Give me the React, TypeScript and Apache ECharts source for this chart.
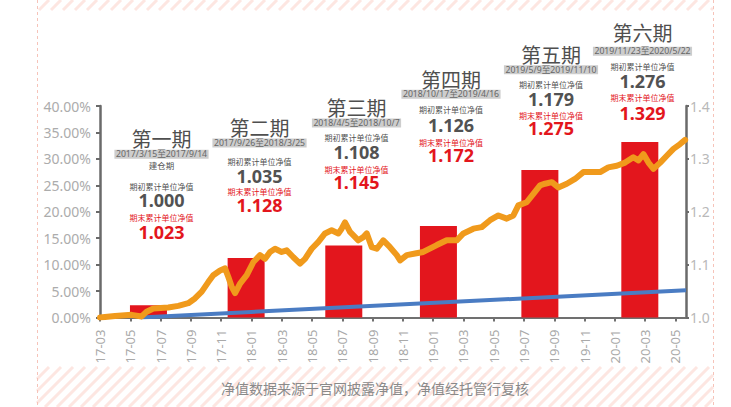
import React, { useEffect, useRef } from 'react';
import * as echarts from 'echarts';

// x axis: months counted from 2017-03
const xTickLabels = ['17-03', '17-05', '17-07', '17-09', '17-11', '18-01', '18-03', '18-05', '18-07', '18-09', '18-11', '19-01', '19-03', '19-05', '19-07', '19-09', '19-11', '20-01', '20-03', '20-05'];
const xMax = 38.7;

// period return bars (left axis, %)
const barMonths = [3.2, 9.65, 16.1, 22.35, 29.05, 35.65];
const barReturns = [2.3, 11.25, 13.6, 17.3, 27.9, 33.2];

// benchmark line (right axis)
const benchMonths = [2.7, 38.7];
const benchValues = [1.0, 1.0515];

// cumulative NAV (right axis)
const navMonths = [0, 0.99, 2.09, 2.75, 3.08, 3.52, 4.51, 5.17, 5.83, 6.27, 6.72, 7.15, 7.48, 7.93, 8.26, 8.47, 8.7, 8.92, 9.25, 9.69, 10.13, 10.57, 10.9, 11.23, 11.56, 12.0, 12.33, 12.77, 13.21, 13.54, 13.98, 14.42, 14.86, 15.3, 15.74, 15.96, 16.18, 16.51, 17.06, 17.39, 17.62, 17.95, 18.28, 18.71, 19.15, 19.6, 19.82, 20.26, 20.81, 21.35, 22.24, 22.9, 23.56, 24.0, 24.66, 25.21, 25.76, 26.31, 26.86, 27.3, 27.63, 28.18, 28.62, 29.06, 29.39, 29.84, 30.27, 30.83, 31.37, 31.92, 32.48, 33.03, 33.57, 34.13, 34.68, 35.22, 35.56, 35.89, 36.22, 36.55, 37.0, 37.43, 37.87, 38.31, 38.64];
const navValues = [1.0, 1.003, 1.005, 1.002, 1.011, 1.017, 1.019, 1.022, 1.027, 1.036, 1.049, 1.067, 1.08, 1.089, 1.093, 1.077, 1.058, 1.046, 1.064, 1.08, 1.105, 1.118, 1.111, 1.124, 1.13, 1.124, 1.127, 1.114, 1.102, 1.111, 1.13, 1.143, 1.159, 1.165, 1.159, 1.168, 1.18, 1.162, 1.146, 1.152, 1.159, 1.133, 1.13, 1.146, 1.133, 1.118, 1.108, 1.118, 1.121, 1.124, 1.137, 1.146, 1.146, 1.159, 1.168, 1.171, 1.184, 1.193, 1.187, 1.193, 1.212, 1.218, 1.234, 1.25, 1.253, 1.256, 1.246, 1.253, 1.262, 1.275, 1.275, 1.275, 1.284, 1.287, 1.293, 1.303, 1.297, 1.309, 1.293, 1.281, 1.293, 1.306, 1.319, 1.328, 1.336];

// period annotations
const periodTitles = ['第一期', '第二期', '第三期', '第四期', '第五期', '第六期'];
const periodRanges = ['2017/3/15至2017/9/14', '2017/9/26至2018/3/25', '2018/4/5至2018/10/7', '2018/10/17至2019/4/16', '2019/5/9至2019/11/10', '2019/11/23至2020/5/22'];
const periodNotes = ['建仓期', '', '', '', '', ''];
const startNav = ['1.000', '1.035', '1.108', '1.126', '1.179', '1.276'];
const endNav = ['1.023', '1.128', '1.145', '1.172', '1.275', '1.329'];
const startLabel = '期初累计单位净值';
const endLabel = '期末累计单位净值';
const footnote = '净值数据来源于官网披露净值，净值经托管行复核';

// layout of annotation blocks: center x, then y of title, range, note, start label, start value, end label, end value
const blockX = [161.5, 259.5, 356.5, 451, 551, 642.5];
const blockY = [
  [138.3, 154.2, 165, 186, 200, 217.3, 231.7],
  [127.3, 143, 0, 161.7, 176, 191.7, 205],
  [107.3, 123, 0, 137.7, 151.7, 169, 181.7],
  [79.3, 94.2, 0, 109.3, 125, 142.3, 155],
  [54.3, 69.8, 0, 84.3, 99, 115.7, 128.3],
  [32.3, 51.3, 0, 66.7, 80.7, 97.7, 113.3],
];

const W = 731;
const H = 407;
const CJK = "'Noto Sans CJK SC', 'Noto Sans', sans-serif";
const LAT = "'Noto Sans', 'Noto Sans CJK SC', sans-serif";
const RED = '#e3161d';
const GRAY = '#525252';

function stripes(x0: number, x1: number, y0: number, y1: number) {
  const out: any[] = [];
  const step = 12;
  for (let c = x0 + y0; c <= x1 + y1 + step; c += step) {
    const xa = Math.max(x0, c - y1);
    const xb = Math.min(x1, c - y0);
    if (xb <= xa) continue;
    out.push({
      type: 'line',
      silent: true,
      z: -10,
      shape: { x1: xa, y1: c - xa, x2: xb, y2: c - xb },
      style: { stroke: '#fde6e1', lineWidth: 3 },
    });
  }
  return out;
}

function txt(x: number, y: number, text: string, size: number, color: string, font: string, weight: any = 'normal', extra: any = {}) {
  return {
    type: 'text',
    x,
    y,
    silent: true,
    style: {
      text,
      fontSize: size,
      fontFamily: font,
      fontWeight: weight,
      fill: color,
      align: 'center',
      verticalAlign: 'middle',
      ...extra,
    },
  };
}

export default function App() {
  const ref = useRef<HTMLDivElement>(null);
  useEffect(() => {
    if (!ref.current) return;
    const chart = echarts.init(ref.current, null, { renderer: 'svg' });

    const graphics: any[] = [];
    graphics.push(...stripes(37, 713, 0, 10));
    graphics.push(...stripes(37, 713, 367, 407));
    [37.5, 713.5].forEach((x) =>
      graphics.push({
        type: 'line',
        silent: true,
        z: -5,
        shape: { x1: x, y1: 0, x2: x, y2: H },
        style: { stroke: '#f6c3b9', lineWidth: 1, lineDash: [3, 3] },
      })
    );
    graphics.push(txt(375, 387.5, footnote, 14, '#8a8a8a', CJK));

    periodTitles.forEach((t, i) => {
      const x = blockX[i];
      const ys = blockY[i];
      graphics.push(txt(x, ys[0], t, 20, '#4f4f4f', CJK));
      graphics.push(
        txt(x, ys[1], periodRanges[i], 8.7, '#666', LAT, 'normal', {
          backgroundColor: '#cdcdcd',
          padding: [0, 1.5],
          lineHeight: 9,
        })
      );
      if (periodNotes[i]) graphics.push(txt(x, ys[2], periodNotes[i], 8.5, GRAY, CJK));
      graphics.push(txt(x, ys[3], startLabel, 8, GRAY, CJK, 'normal', { lineHeight: 8 }));
      graphics.push(txt(x, ys[4], startNav[i], 18, GRAY, LAT, 'bold', { lineHeight: 18 }));
      graphics.push(txt(x, ys[5], endLabel, 8, RED, CJK, 'normal', { lineHeight: 8 }));
      graphics.push(txt(x, ys[6], endNav[i], 18, RED, LAT, 'bold', { lineHeight: 18 }));
    });

    chart.setOption({
      animation: false,
      backgroundColor: '#ffffff',
      grid: { left: 100, right: 45, top: 106, bottom: 89.5, containLabel: false },
      xAxis: {
        type: 'value',
        min: 0,
        max: xMax,
        interval: 2,
        splitLine: { show: false },
        axisLine: { show: true, lineStyle: { color: '#707070', width: 2 } },
        axisTick: { show: true, length: 4, lineStyle: { color: '#707070', width: 2 } },
        axisLabel: {
          rotate: 90,
          color: '#a9a9a9',
          fontSize: 13,
          fontFamily: LAT,
          margin: 12,
          showMaxLabel: false,
          formatter: (v: number) => {
            const k = Math.round(v / 2);
            return Math.abs(v - k * 2) < 1e-6 && xTickLabels[k] ? xTickLabels[k] : '';
          },
        },
      },
      yAxis: [
        {
          type: 'value',
          position: 'left',
          min: 0,
          max: 40,
          interval: 5,
          splitLine: { show: false },
          axisLine: { show: true, lineStyle: { color: '#6a6a6a', width: 2.5 } },
          axisTick: { show: true, length: 4, lineStyle: { color: '#6a6a6a', width: 2 } },
          axisLabel: {
            color: '#acacac',
            fontSize: 14,
            fontFamily: LAT,
            margin: 9,
            formatter: (v: number) => v.toFixed(2) + '%',
          },
        },
        {
          type: 'value',
          position: 'right',
          min: 1.0,
          max: 1.4,
          interval: 0.1,
          splitLine: { show: false },
          axisLine: { show: true, lineStyle: { color: '#6a6a6a', width: 2.5 } },
          axisTick: { show: true, length: 3, lineStyle: { color: '#6a6a6a', width: 2 } },
          axisLabel: {
            color: '#b9b9b9',
            fontSize: 14,
            fontFamily: LAT,
            margin: 4,
            formatter: (v: number) => v.toFixed(1),
          },
        },
      ],
      series: [
        {
          type: 'bar',
          xAxisIndex: 0,
          yAxisIndex: 0,
          barWidth: 37,
          itemStyle: { color: RED },
          data: barMonths.map((m, i) => [m, barReturns[i]]),
          z: 2,
        },
        {
          type: 'line',
          xAxisIndex: 0,
          yAxisIndex: 1,
          symbol: 'none',
          lineStyle: { color: '#4a7cc3', width: 4 },
          data: benchMonths.map((m, i) => [m, benchValues[i]]),
          z: 3,
        },
        {
          type: 'line',
          xAxisIndex: 0,
          yAxisIndex: 1,
          symbol: 'none',
          lineStyle: { color: '#f09a1c', width: 6, join: 'round', cap: 'round' },
          data: navMonths.map((m, i) => [m, navValues[i]]),
          z: 4,
        },
      ],
      graphic: graphics,
    });
    return () => chart.dispose();
  }, []);
  return (
    <div
      ref={ref}
      style={{ position: 'fixed', left: 0, top: 0, width: W, height: H, background: '#fff' }}
    />
  );
}
